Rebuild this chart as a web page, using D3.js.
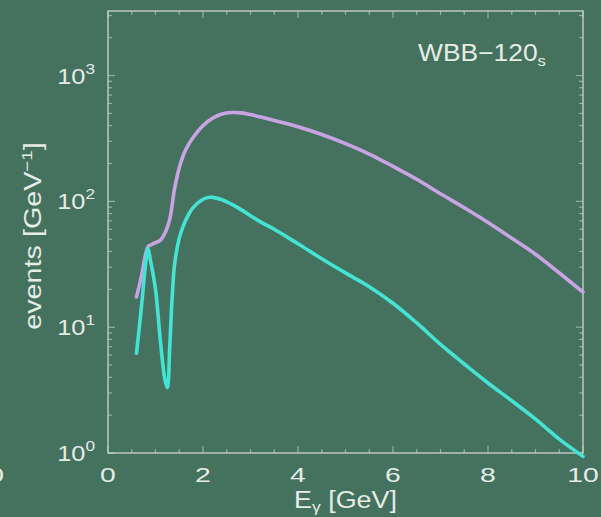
<!DOCTYPE html>
<html>
<head>
<meta charset="utf-8">
<script src="https://cdn.jsdelivr.net/npm/d3@7"></script>
<style>
  html, body { margin: 0; padding: 0; background: #45715f; }
  svg { display: block; }
</style>
</head>
<body>
<div id="chart"></div>
<script>
const width = 601;
const height = 517;
const margin = { top: 11, right: 18, bottom: 64, left: 108 };

const bg = "#45715f";
const frameColor = "#cbd8ce";
const textColor = "#e6ece6";
const colorWide = "#c9a3e3";
const colorNarrow = "#45e3d3";

// energy grid and values (events per GeV)
const energyWide = [0.6, 0.7, 0.8, 0.85, 0.9, 1.0, 1.1, 1.2, 1.3, 1.4, 1.5, 1.6, 1.7, 1.8, 2.0, 2.2, 2.4, 2.6, 2.8, 3.0, 3.2, 3.5, 4.0, 4.5, 5.0, 5.5, 6.0, 6.5, 7.0, 7.5, 8.0, 8.5, 9.0, 9.5, 10.0];
const eventsWide = [17.4, 25, 39, 44, 45, 47, 49, 56, 72, 125, 185, 240, 285, 325, 400, 458, 495, 508, 505, 490, 470, 440, 392, 340, 288, 238, 190, 150, 115, 89, 68, 51, 38, 27, 19];

const energyNarrow = [0.6, 0.7, 0.8, 0.84, 0.9, 1.0, 1.1, 1.2, 1.25, 1.3, 1.35, 1.4, 1.5, 1.6, 1.7, 1.8, 2.0, 2.15, 2.4, 2.6, 2.8, 3.0, 3.2, 3.5, 4.0, 4.5, 5.0, 5.5, 6.0, 6.5, 7.0, 7.5, 8.0, 8.5, 9.0, 9.5, 10.0];
const eventsNarrow = [6.2, 14, 34, 42, 33, 20, 8, 3.8, 3.3, 7, 17, 31, 51, 66, 79, 90, 104, 108, 103, 95, 86, 77, 69, 60, 46, 35, 27, 21, 15.5, 10.8, 7.3, 5.1, 3.6, 2.6, 1.86, 1.29, 0.94];

const xTicks = [0, 2, 4, 6, 8, 10];
const yTicks = [1, 10, 100, 1000];
const yExponents = ["0", "1", "2", "3"];

const svg = d3.select("#chart").append("svg")
  .attr("width", width)
  .attr("height", height)
  .style("font-family", "'Liberation Sans', Arial, Helvetica, sans-serif");

svg.append("rect").attr("width", width).attr("height", height).attr("fill", bg);

const x = d3.scaleLinear().domain([0, 10]).range([margin.left, width - margin.right]);
const y = d3.scaleLog().domain([1, 3260]).range([height - margin.bottom, margin.top]);

const x0 = x.range()[0], x1 = x.range()[1];
const y0 = y.range()[0], y1 = y.range()[1];

// frame
svg.append("rect")
  .attr("x", x0).attr("y", y1)
  .attr("width", x1 - x0).attr("height", y0 - y1)
  .attr("fill", "none")
  .attr("stroke", frameColor)
  .attr("stroke-width", 1.6)
  .attr("opacity", 0.8);

// inward ticks on every side
const ticks = svg.append("g").attr("stroke", frameColor).attr("stroke-width", 1.2).attr("opacity", 0.6);
d3.range(0, 10.01, 0.5).forEach(v => {
  const len = v % 2 === 0 ? 7 : 4;
  ticks.append("line").attr("x1", x(v)).attr("x2", x(v)).attr("y1", y0).attr("y2", y0 - len);
  ticks.append("line").attr("x1", x(v)).attr("x2", x(v)).attr("y1", y1).attr("y2", y1 + len);
});
const yMinor = [];
for (let d = 1; d <= 1000; d *= 10) for (let k = 1; k <= 9; k++) if (d * k <= 3260) yMinor.push(d * k);
yMinor.forEach(v => {
  const len = yTicks.includes(v) ? 7 : 4;
  ticks.append("line").attr("x1", x0).attr("x2", x0 + len).attr("y1", y(v)).attr("y2", y(v));
  ticks.append("line").attr("x1", x1).attr("x2", x1 - len).attr("y1", y(v)).attr("y2", y(v));
});

// text drawn slightly extended, like the wide face in the picture
function wide(sel, px, py, sx, rot = 0) {
  return sel.attr("transform", `translate(${px},${py}) rotate(${rot}) scale(${sx},1)`);
}

// x tick labels
svg.append("g").selectAll("text")
  .data(xTicks)
  .join("text")
  .each(function (d) { wide(d3.select(this), x(d), y0 + 29, 1.35); })
  .attr("text-anchor", "middle")
  .attr("fill", textColor)
  .attr("font-size", 21)
  .text(d => d);

// y tick labels 10^n
const yl = svg.append("g").selectAll("text")
  .data(yTicks)
  .join("text")
  .each(function (d) { wide(d3.select(this), x0 - 13, y(d) + 8, 1.15); })
  .attr("text-anchor", "end")
  .attr("fill", textColor)
  .attr("font-size", 22);
yl.append("tspan").text("10");
yl.append("tspan").attr("dy", -10).attr("font-size", 15).text((d, i) => yExponents[i]);

// axis titles
const yTitle = wide(svg.append("text"), 41, 236, 1.25, -90)
  .attr("text-anchor", "middle")
  .attr("fill", textColor)
  .attr("font-size", 23);
yTitle.append("tspan").text("events [GeV");
yTitle.append("tspan").attr("dy", -9).attr("font-size", 15).text("−1");
yTitle.append("tspan").attr("dy", 9).text("]");

const xTitle = wide(svg.append("text"), x(5), 508, 1.17)
  .attr("text-anchor", "middle")
  .attr("fill", textColor)
  .attr("font-size", 23);
xTitle.append("tspan").text("E");
xTitle.append("tspan").attr("dy", 4).attr("font-size", 15).text("γ");
xTitle.append("tspan").attr("dy", -4).text(" [GeV]");

// panel label
const label = wide(svg.append("text"), 418, 61, 1.1)
  .attr("fill", textColor)
  .attr("font-size", 24);
label.append("tspan").text("WBB−120");
label.append("tspan").attr("dy", 5).attr("font-size", 15).text("s");

// remnant of the neighbouring panel's tick label at the left edge
wide(svg.append("text"), 4, y0 + 29, 1.35)
  .attr("text-anchor", "end")
  .attr("fill", textColor)
  .attr("font-size", 21)
  .text("10");

// curves
const line = d3.line()
  .x(d => x(d[0]))
  .y(d => y(d[1]))
  .curve(d3.curveCatmullRom.alpha(0.5));

const plot = svg.append("g")
  .attr("fill", "none")
  .attr("stroke-width", 3.6)
  .attr("stroke-linecap", "round")
  .attr("stroke-linejoin", "round");

plot.append("path")
  .datum(d3.zip(energyWide, eventsWide))
  .attr("d", line)
  .attr("stroke", colorWide);

plot.append("path")
  .datum(d3.zip(energyNarrow, eventsNarrow))
  .attr("d", line)
  .attr("stroke", colorNarrow);
</script>
</body>
</html>
